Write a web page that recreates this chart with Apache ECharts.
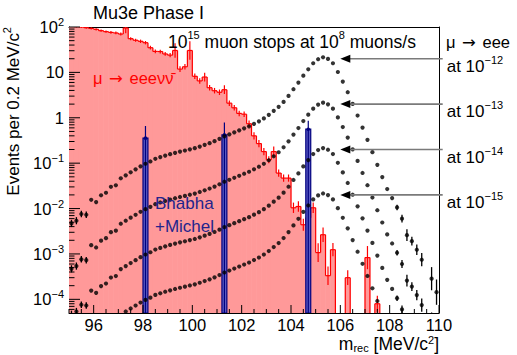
<!DOCTYPE html>
<html>
<head>
<meta charset="utf-8">
<script src="https://cdn.jsdelivr.net/npm/echarts@6/dist/echarts.min.js"></script>
<style>
  html, body { margin: 0; padding: 0; background: #fff; }
  #chart { width: 517px; height: 355px; }
</style>
</head>
<body>
<div id="chart"></div>
<script>
const FONT = '"Liberation Sans", Arial, Helvetica, sans-serif';
const SYMBOL_FONT = '"DejaVu Sans", sans-serif';

// Histogram binning: 75 bins of 0.2 MeV/c^2 between 95 and 110 MeV/c^2
const binStart = 95;
const binWidth = 0.2;
const binCount = 75;

const xRange = [95, 110];
const yRange = [5e-5, 100];

// Axis ticks
const xMajorTicks = [96, 98, 100, 102, 104, 106, 108, 110];
const xMinorTicks = [95, 95.5, 96.5, 97, 97.5, 98.5, 99, 99.5, 100.5, 101, 101.5, 102.5, 103, 103.5,
  104.5, 105, 105.5, 106.5, 107, 107.5, 108.5, 109, 109.5];
const yMajorTicks = [1e-4, 1e-3, 1e-2, 1e-1, 1, 10, 100];
const yMinorTicks = [
  6e-5, 7e-5, 8e-5, 9e-5,
  2e-4, 3e-4, 4e-4, 5e-4, 6e-4, 7e-4, 8e-4, 9e-4,
  2e-3, 3e-3, 4e-3, 5e-3, 6e-3, 7e-3, 8e-3, 9e-3,
  0.02, 0.03, 0.04, 0.05, 0.06, 0.07, 0.08, 0.09,
  0.2, 0.3, 0.4, 0.5, 0.6, 0.7, 0.8, 0.9,
  2, 3, 4, 5, 6, 7, 8, 9,
  20, 30, 40, 50, 60, 70, 80, 90
];

// Internal conversion background: mu -> e e e nu nubar (events per bin)
const eeevvValues = [
  105, 102, 100, 96.5, 93, 89, 83, 79, 76, 74,
  70, 95, 55.3, 51, 48.4, 45.1, 35, 29, 28.8, 25.5,
  24, 30.4, 11.8, 13.3, 30.4, 8.2, 6.5, 7.9, 4.6, 3.95,
  3.65, 4.15, 2.1, 1.66, 1.25, 1.2, 0.74, 0.40, 0.27, 0.18,
  0.119, 0.18, 0.0604, 0.0469, 0.0469, 0.0104, 0.0111, 0.0044, 0.0063, 0.0104,
  0.00107, 0.00265, 0.000332, 0.00124, 0, 0, 0.0003, 0, 0, 0,
  0.00083, 0, 0.00008, 0, 0, 0, 0, 0, 0, 0,
  0, 0, 0, 0, 0
];
// Statistical uncertainty of each bin, as a multiplicative factor (0 = no bar)
const eeevvErrFactor = [
  1.05, 1.05, 1.05, 1.05, 1.06, 1.06, 1.06, 1.06, 1.07, 1.07,
  1.08, 1.3, 1.08, 1.08, 1.09, 1.09, 1.1, 1.1, 1.1, 1.1,
  1.12, 1.45, 1.15, 1.15, 1.6, 1.15, 1.15, 1.25, 1.15, 1.15,
  1.15, 1.25, 1.15, 1.15, 1.15, 1.15, 1.18, 1.2, 1.2, 1.2,
  1.2, 1.3, 1.2, 1.2, 1.2, 1.3, 1.3, 1.35, 1.35, 1.3,
  1.6, 1.45, 1.6, 1.4, 0, 0, 1.45, 0, 0, 0,
  1.8, 0, 1.5, 0, 0, 0, 0, 0, 0, 0,
  0, 0, 0, 0, 0
];

// Accidental background: Bhabha + Michel
const bhabhaCenters = [98.1, 101.3, 104.7];
const bhabhaValues = [0.356, 0.42, 0.56];
const bhabhaErrHigh = [0.66, 0.785, 0.86];

// Signal mu -> eee for the four branching ratios
const signalBR12 = [
  4.7e-3, 5.4e-3, 7.6e-3, 7.3e-3, 1.56e-2, 1.39e-2, 1.96e-2, 2.23e-2, 3.02e-2, 3.26e-2,
  4.64e-2, 5.4e-2, 6.3e-2, 7.3e-2, 8.5e-2, 9.7e-2, 1.09e-1, 1.25e-1, 1.36e-1, 1.47e-1,
  1.58e-1, 1.69e-1, 1.80e-1, 1.90e-1, 2.02e-1, 2.14e-1, 2.32e-1, 2.53e-1, 2.76e-1, 3.05e-1,
  3.43e-1, 3.90e-1, 4.31e-1, 4.77e-1, 5.28e-1, 5.85e-1, 6.47e-1, 7.34e-1, 8.34e-1, 9.70e-1,
  1.16e0, 1.42e0, 1.74e0, 2.24e0, 3.03e0, 4.26e0, 5.95e0, 8.48e0, 1.17e1, 1.59e1,
  1.95e1, 2.15e1, 1.98e1, 1.59e1, 1.02e1, 6.26e0, 3.66e0, 2.02e0, 1.12e0, 6.08e-1,
  3.27e-1, 1.75e-1, 9.2e-2, 4.93e-2, 2.69e-2, 1.70e-2, 1.06e-2, 6.0e-3, 2.59e-3, 1.91e-3,
  1.24e-3, 7.47e-4, null, 2.85e-4, 1.44e-4
];
const signalBR13 = [
  4.7e-4, 5.4e-4, 7.6e-4, 7.3e-4, 1.56e-3, 1.39e-3, 1.96e-3, 2.23e-3, 3.02e-3, 3.26e-3,
  4.64e-3, 5.4e-3, 6.3e-3, 7.3e-3, 8.5e-3, 9.7e-3, 1.09e-2, 1.25e-2, 1.36e-2, 1.47e-2,
  1.58e-2, 1.69e-2, 1.80e-2, 1.90e-2, 2.02e-2, 2.14e-2, 2.32e-2, 2.53e-2, 2.76e-2, 3.05e-2,
  3.43e-2, 3.90e-2, 4.31e-2, 4.77e-2, 5.28e-2, 5.85e-2, 6.47e-2, 7.34e-2, 8.34e-2, 9.70e-2,
  1.16e-1, 1.42e-1, 1.74e-1, 2.24e-1, 3.03e-1, 4.26e-1, 5.95e-1, 8.48e-1, 1.17e0, 1.59e0,
  1.95e0, 2.15e0, 1.98e0, 1.59e0, 1.02e0, 6.26e-1, 3.66e-1, 2.02e-1, 1.12e-1, 6.08e-2,
  3.27e-2, 1.75e-2, 9.2e-3, 4.93e-3, 2.69e-3, 1.70e-3, 1.06e-3, 6.0e-4, 2.59e-4, 1.91e-4,
  1.24e-4, 7.47e-5, null, 2.85e-5, 1.44e-5
];
const signalBR14 = [
  4.7e-5, 5.4e-5, 7.6e-5, 7.3e-5, 1.56e-4, 1.39e-4, 1.96e-4, 2.23e-4, 3.02e-4, 3.26e-4,
  4.64e-4, 5.4e-4, 6.3e-4, 7.3e-4, 8.5e-4, 9.7e-4, 1.09e-3, 1.25e-3, 1.36e-3, 1.47e-3,
  1.58e-3, 1.69e-3, 1.80e-3, 1.90e-3, 2.02e-3, 2.14e-3, 2.32e-3, 2.53e-3, 2.76e-3, 3.05e-3,
  3.43e-3, 3.90e-3, 4.31e-3, 4.77e-3, 5.28e-3, 5.85e-3, 6.47e-3, 7.34e-3, 8.34e-3, 9.70e-3,
  1.16e-2, 1.42e-2, 1.74e-2, 2.24e-2, 3.03e-2, 4.26e-2, 5.95e-2, 8.48e-2, 1.17e-1, 1.59e-1,
  1.95e-1, 2.15e-1, 1.98e-1, 1.59e-1, 1.02e-1, 6.26e-2, 3.66e-2, 2.02e-2, 1.12e-2, 6.08e-3,
  3.27e-3, 1.75e-3, 9.2e-4, 4.93e-4, 2.69e-4, 1.70e-4, 1.06e-4, 6.0e-5, 2.59e-5, 1.91e-5,
  1.24e-5, 7.47e-6, null, 2.85e-6, 1.44e-6
];
const signalBR15 = [
  4.7e-6, 5.4e-6, 7.6e-6, 7.3e-6, 1.56e-5, 1.39e-5, 1.96e-5, 2.23e-5, 3.02e-5, 3.26e-5,
  4.64e-5, 5.4e-5, 6.3e-5, 7.3e-5, 8.5e-5, 9.7e-5, 1.09e-4, 1.25e-4, 1.36e-4, 1.47e-4,
  1.58e-4, 1.69e-4, 1.80e-4, 1.90e-4, 2.02e-4, 2.14e-4, 2.32e-4, 2.53e-4, 2.76e-4, 3.05e-4,
  3.43e-4, 3.90e-4, 4.31e-4, 4.77e-4, 5.28e-4, 5.85e-4, 6.47e-4, 7.34e-4, 8.34e-4, 9.70e-4,
  1.16e-3, 1.42e-3, 1.74e-3, 2.24e-3, 3.03e-3, 4.26e-3, 5.95e-3, 8.48e-3, 1.17e-2, 1.59e-2,
  1.95e-2, 2.15e-2, 1.98e-2, 1.59e-2, 1.02e-2, 6.26e-3, 3.66e-3, 2.02e-3, 1.12e-3, 6.08e-4,
  3.27e-4, 1.75e-4, 9.2e-5, 4.93e-5, 2.69e-5, 1.70e-5, 1.06e-5, 6.0e-6, 2.59e-6, 1.91e-6,
  1.24e-6, 7.47e-7, null, 2.85e-7, 1.44e-7
];
// Monte Carlo uncertainty of the signal shape, as a multiplicative factor (0 = no bar)
const signalErrFactor = [
  1.2, 1.2, 1.18, 1.18, 0, 0, 0, 0, 0, 0,
  0, 0, 0, 0, 0, 0, 0, 0, 0, 0,
  0, 0, 0, 0, 0, 0, 0, 0, 0, 0,
  0, 0, 0, 0, 0, 0, 0, 0, 0, 0,
  0, 0, 0, 0, 0, 0, 0, 0, 0, 0,
  0, 0, 0, 0, 0, 0, 0, 0, 0, 0,
  0, 0, 0, 0, 0, 0, 1.15, 1.22, 1.35, 1.25,
  1.3, 1.4, 0, 1.8, 1.9
];

const signalCurves = [signalBR12, signalBR13, signalBR14, signalBR15];
const signalLabels = ['\u221212', '\u221213', '\u221214', '\u221215'];
// Arrow heights (events per bin) pointing at each signal peak
const arrowLevels = [20, 2, 0.2, 0.02];
const arrowTipMass = 106.0;
const arrowTailMass = 110.15;

// ---------------------------------------------------------------------------
const RED = '#ff0000';
const RED_FILL = '#ff9999';
const NAVY = '#00007f';

const binLow = i => binStart + i * binWidth;
const binCenter = i => +(binStart + (i + 0.5) * binWidth).toFixed(2);

const chart = echarts.init(document.getElementById('chart'), null, { renderer: 'svg', width: 517, height: 355 });

// Data rows for the custom histogram series: [low edge, high edge, value, error factor]
const eeevvRows = eeevvValues.map((v, i) => [binLow(i), +(binLow(i) + binWidth).toFixed(2), v, eeevvErrFactor[i]]);

function redFillItem(params, api) {
  const v = api.value(2);
  if (!(v > 0)) return null;
  const a = api.coord([api.value(0), v]);
  const b = api.coord([api.value(1), yRange[0]]);
  // slightly overlapping neighbouring bins so no seams show between them
  return { type: 'rect', shape: { x: a[0] - 0.3, y: a[1], width: b[0] - a[0] + 0.6, height: b[1] - a[1] },
           style: { fill: RED_FILL } };
}

function redLineItem(params, api) {
  const i = params.dataIndex;
  const v = api.value(2);
  const x0 = api.value(0), x1 = api.value(1);
  const bottom = api.coord([x0, yRange[0]])[1];
  const children = [];
  const lineStyle = { stroke: RED, lineWidth: 1.2, fill: null };
  if (v > 0) {
    const a = api.coord([x0, v]);
    const b = api.coord([x1, v]);
    children.push({ type: 'line', shape: { x1: a[0], y1: a[1], x2: b[0], y2: b[1] }, style: lineStyle });
    if (i > 0) {
      const pv = eeevvValues[i - 1];
      const py = pv > 0 ? api.coord([x0, pv])[1] : bottom;
      children.push({ type: 'line', shape: { x1: a[0], y1: a[1], x2: a[0], y2: py }, style: lineStyle });
    }
    const nv = eeevvValues[i + 1];
    if (!(nv > 0)) {
      children.push({ type: 'line', shape: { x1: b[0], y1: b[1], x2: b[0], y2: bottom }, style: lineStyle });
    }
    const f = api.value(3);
    if (f > 0) {
      const xc = (x0 + x1) / 2;
      const lo = api.coord([xc, v / f]);
      const hi = api.coord([xc, v * f]);
      children.push({ type: 'line', shape: { x1: lo[0], y1: lo[1], x2: hi[0], y2: hi[1] }, style: lineStyle });
    }
  }
  return { type: 'group', children };
}

const bhabhaRows = bhabhaCenters.map((c, i) => [c, bhabhaValues[i], bhabhaErrHigh[i]]);
function bhabhaItem(params, api) {
  const xc = api.value(0), v = api.value(1), hi = api.value(2);
  const a = api.coord([xc - binWidth / 2, v]);
  const b = api.coord([xc + binWidth / 2, yRange[0]]);
  const c = api.coord([xc, v]);
  const h = api.coord([xc, hi]);
  return {
    type: 'group',
    children: [
      { type: 'rect', shape: { x: a[0], y: a[1], width: b[0] - a[0], height: b[1] - a[1] },
        style: { fill: '#5c5cc4', stroke: NAVY, lineWidth: 1.2 } },
      { type: 'line', shape: { x1: c[0], y1: b[1], x2: h[0], y2: h[1] }, style: { stroke: NAVY, lineWidth: 1.2 } },
      { type: 'circle', shape: { cx: c[0], cy: c[1], r: 1.8 }, style: { fill: NAVY } }
    ]
  };
}

function signalErrRows(curve) {
  const rows = [];
  curve.forEach((v, i) => {
    if (v != null && signalErrFactor[i] > 0) rows.push([binCenter(i), v / signalErrFactor[i], v * signalErrFactor[i]]);
  });
  return rows;
}
function signalErrItem(params, api) {
  const lo = api.coord([api.value(0), api.value(1)]);
  const hi = api.coord([api.value(0), api.value(2)]);
  return { type: 'line', shape: { x1: lo[0], y1: lo[1], x2: hi[0], y2: hi[1] }, style: { stroke: '#000', lineWidth: 1.3 } };
}

// Tick rows: [value, length px, axis (0 = x, 1 = y)]
const tickRows = [].concat(
  xMajorTicks.map(v => [v, 8, 0]),
  xMinorTicks.map(v => [v, 4, 0]),
  yMajorTicks.map(v => [v, 11, 1]),
  yMinorTicks.map(v => [v, 5.5, 1])
);
function tickItem(params, api) {
  const v = api.value(0), len = api.value(1), axis = api.value(2);
  let p, shape;
  if (axis === 0) {
    p = api.coord([v, yRange[0]]);
    shape = { x1: p[0], y1: p[1], x2: p[0], y2: p[1] - len };
  } else {
    p = api.coord([xRange[0], v]);
    shape = { x1: p[0], y1: p[1], x2: p[0] + len, y2: p[1] };
  }
  return { type: 'line', shape, style: { stroke: '#000', lineWidth: 1 } };
}

const yLabelFormatter = v => {
  const lg = Math.log10(v);
  const e = Math.round(lg);
  if (Math.abs(lg - e) > 1e-6) return '';
  if (e === 0) return '{b|1}';
  if (e === 1) return '{b|10}';
  return '{b|10}{sup|' + (e < 0 ? '\u2212' + (-e) : e) + '}';
};

const series = [
  { type: 'custom', name: 'eeevv fill', data: eeevvRows, renderItem: redFillItem, clip: true, z: 1, silent: true },
  { type: 'custom', name: 'eeevv', data: eeevvRows, renderItem: redLineItem, clip: true, z: 2, silent: true },
  { type: 'custom', name: 'Bhabha+Michel', data: bhabhaRows, renderItem: bhabhaItem, clip: true, z: 3, silent: true }
];
signalCurves.forEach((curve, k) => {
  series.push({ type: 'custom', name: 'signal err ' + k, data: signalErrRows(curve), renderItem: signalErrItem,
                clip: true, z: 4, silent: true });
  series.push({ type: 'scatter', name: 'mu->eee ' + k, symbol: 'circle', symbolSize: 4.2, clip: true, z: 5,
                silent: true, itemStyle: { color: '#000' },
                data: curve.map((v, i) => [binCenter(i), v]).filter(d => d[1] != null) });
});
series.push({ type: 'custom', name: 'ticks', data: tickRows, renderItem: tickItem, clip: false, z: 6, silent: true });

const axisCommon = { axisTick: { show: false }, splitLine: { show: false },
                     axisLine: { show: true, onZero: false, lineStyle: { color: '#000', width: 1 } } };

chart.setOption({
  animation: false,
  backgroundColor: '#fff',
  grid: { left: 69, right: 78, top: 27, bottom: 42, outerBoundsMode: 'none', containLabel: false },
  xAxis: [
    Object.assign({ type: 'value', min: xRange[0], max: xRange[1], interval: 1, position: 'bottom',
      axisLabel: { margin: 4, fontSize: 16.5, lineHeight: 16, color: '#000', fontFamily: FONT,
                   formatter: v => (v % 2 === 0 ? String(v) : '') } }, axisCommon),
    Object.assign({ type: 'value', min: xRange[0], max: xRange[1], position: 'top', axisLabel: { show: false } }, axisCommon)
  ],
  yAxis: [
    Object.assign({ type: 'log', logBase: 10, min: yRange[0], max: yRange[1], position: 'left',
      axisLabel: { margin: 5, color: '#000', fontFamily: FONT, formatter: yLabelFormatter,
        rich: {
          b: { fontSize: 16.5, fontFamily: FONT, color: '#000', lineHeight: 21 },
          sup: { fontSize: 11, fontFamily: FONT, color: '#000', verticalAlign: 'top', lineHeight: 11 }
        } } }, axisCommon),
    Object.assign({ type: 'log', logBase: 10, min: yRange[0], max: yRange[1], position: 'right', axisLabel: { show: false } }, axisCommon)
  ],
  series
});

// ---------------------------------------------------------------------------
// Annotations
const supRich = (size, color) => ({
  sup: { fontSize: Math.round(size * 0.65), fontFamily: FONT, fill: color, color, verticalAlign: 'top', lineHeight: Math.round(size * 0.65) + 1 },
  sub: { fontSize: Math.round(size * 0.65), fontFamily: FONT, fill: color, color, verticalAlign: 'bottom', lineHeight: Math.round(size * 0.65) + 1 },
  arr: { fontSize: size, fontFamily: SYMBOL_FONT, fill: color, color, padding: [0, 2, 0, 2] }
});
const textEl = (x, y, text, size, color, extra) => ({
  type: 'text', x, y, silent: true, z: 10,
  style: Object.assign({ text, fontSize: size, fontFamily: FONT, fill: color, align: 'left',
                         verticalAlign: 'middle', lineHeight: size + 7, rich: supRich(size, color) }, extra || {})
});

const graphic = [
  textEl(93, 13, 'Mu3e Phase I', 18, '#000'),
  textEl(168, 42, '10{sup|15} muon stops at 10{sup|8} muons/s', 17.5, '#000'),
  textEl(93, 78, '\u03bc {arr|\u2192} eee\u03bd\u03bd\u0304', 16.5, RED),
  textEl(155, 203, 'Bhabha', 17, '#24248c'),
  textEl(155, 226, '+Michel', 17, '#24248c'),
  textEl(446, 42, '\u03bc {arr|\u2192} eee', 16.5, '#000'),
  textEl(439, 343.5, 'm{sub|rec} [MeV/c{sup|2}]', 17.5, '#000', { align: 'right', lineHeight: 19 }),
  Object.assign(textEl(13, 27, 'Events per 0.2 MeV/c{sup|2}', 17, '#000', { align: 'right' }), { rotation: Math.PI / 2 })
];

arrowLevels.forEach((lvl, k) => {
  const tip = chart.convertToPixel({ xAxisIndex: 0, yAxisIndex: 0 }, [arrowTipMass, lvl]);
  const tail = chart.convertToPixel({ xAxisIndex: 0, yAxisIndex: 0 }, [arrowTailMass, lvl]);
  graphic.push({ type: 'line', silent: true, z: 10,
    shape: { x1: tip[0] + 8, y1: tip[1], x2: tail[0], y2: tail[1] }, style: { stroke: '#7a7a7a', lineWidth: 1.6 } });
  graphic.push({ type: 'polygon', silent: true, z: 11,
    shape: { points: [[tip[0], tip[1]], [tip[0] + 10, tip[1] - 4], [tip[0] + 10, tip[1] + 4]] }, style: { fill: '#000' } });
  graphic.push(textEl(tail[0] + 4, tip[1] + 7.5, 'at 10{sup|' + signalLabels[k] + '}', 17, '#000'));
});

chart.setOption({ graphic });
</script>
</body>
</html>
